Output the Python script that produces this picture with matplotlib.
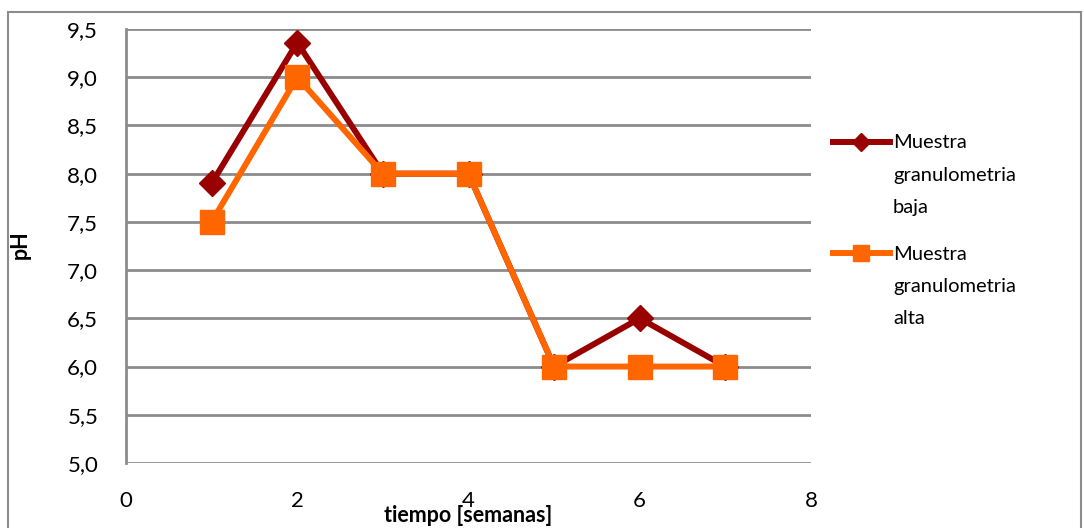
import matplotlib
matplotlib.use("Agg")
import matplotlib.pyplot as plt
from matplotlib.lines import Line2D
from matplotlib.patches import Rectangle

semanas = [1, 2, 3, 4, 5, 6, 7]
ph_baja = [7.9, 9.36, 8.0, 8.0, 6.0, 6.5, 6.0]
ph_alta = [7.5, 9.0, 8.0, 8.0, 6.0, 6.0, 6.0]
labels = ["Muestra\ngranulometria\nbaja", "Muestra\ngranulometria\nalta"]
yticks = [5.0, 5.5, 6.0, 6.5, 7.0, 7.5, 8.0, 8.5, 9.0, 9.5]
xticks = [0, 2, 4, 6, 8]

c_baja = "#990000"
c_alta = "#FF6600"
grid_c = "#8C8C8C"

plt.rcParams['font.family'] = ['Lato', 'DejaVu Sans']

W, H = 1084, 528
fig = plt.figure(figsize=(W/100, H/100), dpi=100)
ax = fig.add_axes([126/W, 1 - 463/H, (811-126)/W, (463-29)/H])

ax.plot(semanas, ph_baja, color=c_baja, lw=4.3, marker='D', ms=13, zorder=3,
        solid_joinstyle='miter')
ax.plot(semanas, ph_alta, color=c_alta, lw=4.3, marker='s', ms=17, zorder=4,
        solid_joinstyle='miter')

ax.set_xlim(0, 8)
ax.set_ylim(5.0, 9.5)
ax.set_yticks(yticks)
ax.set_yticklabels([f"{v:.1f}".replace('.', ',') for v in yticks], fontsize=16)
ax.set_xticks(xticks)
ax.set_xticklabels([str(v) for v in xticks], fontsize=16)
ax.tick_params(axis='both', length=0)
ax.tick_params(axis='x', pad=20)
ax.tick_params(axis='y', pad=20)
ax.yaxis.grid(True, color=grid_c, lw=2)
ax.set_axisbelow(True)
for s in ['top', 'right', 'bottom']:
    ax.spines[s].set_visible(False)
ax.spines['left'].set_color(grid_c)
ax.spines['left'].set_linewidth(2)

fig.text(468/W, 1 - 515/H, "tiempo [semanas]", fontsize=15.5, fontweight='bold',
         ha='center', va='center')
fig.text(20/W, 1 - 245/H, "pH", fontsize=15.5, fontweight='bold', rotation=90,
         ha='center', va='center')

# legend drawn manually (handle aligned with first line of each label)
legend_specs = [(142, c_baja, 'D', 9), (253, c_alta, 's', 12)]
for (yc, col, mk, ms), lab in zip(legend_specs, labels):
    fy = 1 - yc/H
    fig.add_artist(Line2D([833/W, 890/W], [fy, fy], color=col, lw=4.3,
                          transform=fig.transFigure))
    fig.add_artist(Line2D([861/W], [fy], color=col, marker=mk, ms=ms, lw=0,
                          transform=fig.transFigure))
    for i, line in enumerate(lab.split("\n")):
        fig.text(893/W, 1 - (yc + 1 + i*32.5)/H, line, fontsize=14.5,
                 ha='left', va='center')

fig.patches.append(Rectangle((8/W, -0.1), (1081-8)/W, 1 - 12/H + 0.1,
                             transform=fig.transFigure, fill=False,
                             edgecolor=grid_c, lw=1.5))

fig.savefig("out.png", dpi=100)
